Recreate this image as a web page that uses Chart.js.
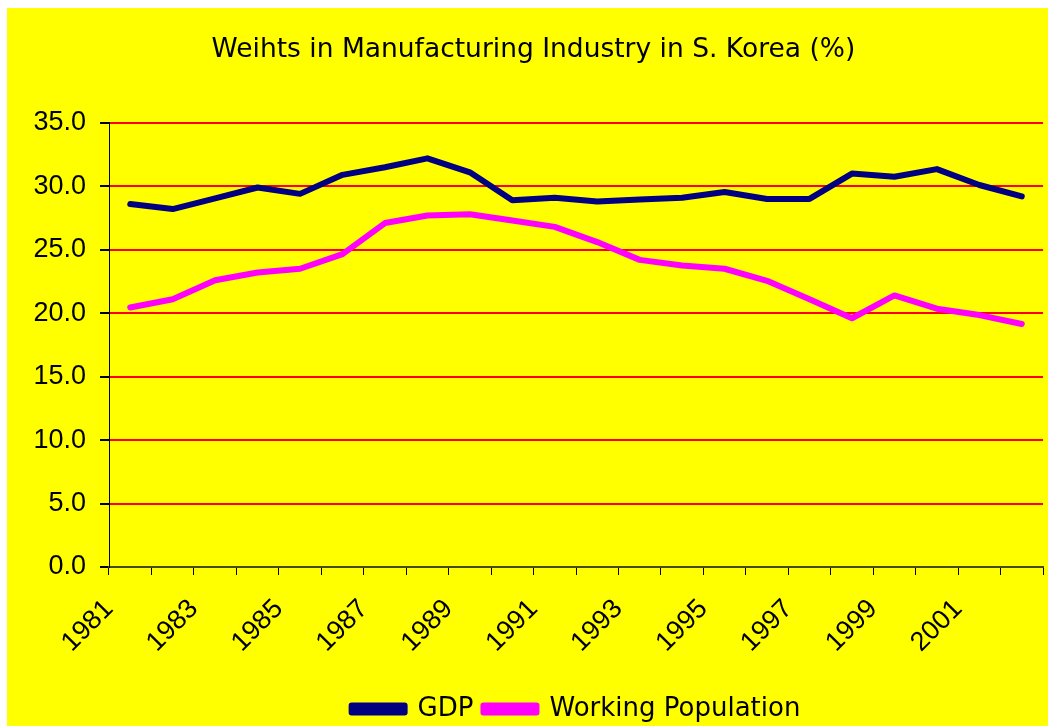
<!DOCTYPE html>
<html><head><meta charset="utf-8">
<script src="https://cdn.jsdelivr.net/npm/chart.js@4"></script>
<style>
html,body{margin:0;padding:0;background:#fff;overflow:hidden;}
#wrap{position:absolute;left:7px;top:8px;width:1041px;height:724px;}
</style></head>
<body><div id="wrap"><canvas id="c" width="1041" height="724"></canvas></div>
<script>
const years = ['1981','1982','1983','1984','1985','1986','1987','1988','1989','1990','1991','1992','1993','1994','1995','1996','1997','1998','1999','2000','2001','2002'];
const gdp = [28.6,28.2,29.05,29.9,29.4,30.9,31.5,32.2,31.1,28.9,29.1,28.8,28.95,29.1,29.55,29.0,29.0,31.0,30.75,31.35,30.1,29.2];
const workingPop = [20.45,21.1,22.6,23.2,23.5,24.65,27.1,27.7,27.8,27.3,26.8,25.6,24.2,23.75,23.5,22.55,21.1,19.6,21.4,20.35,19.85,19.15];
const yTicks = [0,5,10,15,20,25,30,35];
const titleText = 'Weihts in Manufacturing Industry in S. Korea (%)';
const gothic = "'DejaVu Sans',sans-serif";
const arial = "'Liberation Sans',Arial,sans-serif";
const bgPlugin = {id:'bg', beforeDraw(ch){const c=ch.ctx;c.save();c.fillStyle='#ffff00';c.fillRect(0,0,ch.width,ch.height);c.restore();}};
new Chart(document.getElementById('c'), {
  type:'line',
  data:{labels:years, datasets:[
    {label:'GDP', data:gdp, borderColor:'#000080', backgroundColor:'#000080', borderWidth:6, pointRadius:0, tension:0, borderCapStyle:'round', borderJoinStyle:'round'},
    {label:'Working Population', data:workingPop, borderColor:'#ff00ff', backgroundColor:'#ff00ff', borderWidth:6, pointRadius:0, tension:0, borderCapStyle:'round', borderJoinStyle:'round'}
  ]},
  options:{
    responsive:false, animation:false, devicePixelRatio:1,
    layout:{padding:{left:0,right:5,top:0,bottom:0}},
    plugins:{
      title:{display:true, text:'  '+titleText, color:'#000', font:{family:gothic, size:26.5, weight:'normal'}, padding:{top:26,bottom:57}},
      legend:{position:'bottom', fullSize:false, labels:{color:'#000', font:{family:gothic,size:26}, boxWidth:53, boxHeight:7, padding:10}},
      tooltip:{enabled:false}
    },
    scales:{
      x:{offset:true,
        grid:{offset:true, drawOnChartArea:false, drawTicks:true, tickLength:8, tickColor:'#000', lineWidth:1},
        border:{display:true, color:'#4a4a10', width:2},
        ticks:{autoSkip:false, minRotation:45, maxRotation:45, color:'#000', padding:-3, font:{family:arial, size:27},
          callback:function(v,i){return i%2===0?years[i]+'    ':'';}},
        afterFit(s){s.height=119; s.paddingLeft=0; s.paddingRight=0;}
      },
      y:{min:0,max:35,
        afterBuildTicks(s){s.ticks=yTicks.map(v=>({value:v}));},
        grid:{color:'#ff0000', lineWidth:2, tickColor:'#000', tickLength:9},
        border:{display:true,color:'#000',width:1},
        ticks:{color:'#000', padding:14, font:{family:arial, size:27}, callback:v=>v.toFixed(1)},
        afterFit(s){s.width=102;}
      }
    }
  },
  plugins:[bgPlugin]
});
</script></body></html>
